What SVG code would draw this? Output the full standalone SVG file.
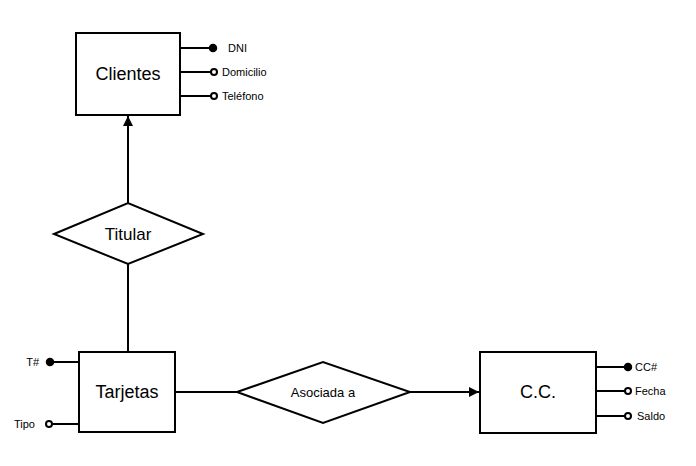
<svg xmlns="http://www.w3.org/2000/svg" width="696" height="466" viewBox="0 0 696 466">
<defs>
<style>
.box{fill:#fff;stroke:#000;stroke-width:2}
.ln{fill:none;stroke:#000;stroke-width:2}
.t{font-family:"Liberation Sans",Arial,sans-serif;fill:#000}
.big{font-size:18px}
.mid{font-size:13px}
.sm{font-size:11px}
.key{fill:#000;stroke:#000;stroke-width:1.5}
.opt{fill:#fff;stroke:#000;stroke-width:2}
</style>
<marker id="arr" viewBox="0 0 10 10" refX="10" refY="5" markerWidth="10" markerHeight="10" markerUnits="userSpaceOnUse" orient="auto">
<path d="M0,0 L10,5 L0,10 z" fill="#000"/>
</marker>
</defs>
<rect width="696" height="466" fill="#fff"/>
<g id="connectors">
<line class="ln" x1="128" y1="203" x2="128" y2="116" marker-end="url(#arr)"/>
<line class="ln" x1="128" y1="264" x2="128" y2="352"/>
<line class="ln" x1="175" y1="392" x2="237" y2="392"/>
<line class="ln" x1="410" y1="392" x2="479" y2="392" marker-end="url(#arr)"/>
</g>
<g id="clientes">
<rect class="box" x="76" y="33" width="104" height="82"/>
<text class="t big" x="128" y="80" text-anchor="middle">Clientes</text>
<line class="ln" x1="180" y1="48" x2="210" y2="48"/>
<circle class="key" cx="213" cy="48" r="3.5"/>
<text class="t sm" x="228" y="52">DNI</text>
<line class="ln" x1="180" y1="72" x2="211" y2="72"/>
<circle class="opt" cx="214" cy="72" r="3"/>
<text class="t sm" x="222" y="76">Domicilio</text>
<line class="ln" x1="180" y1="96" x2="211" y2="96"/>
<circle class="opt" cx="214" cy="96" r="3"/>
<text class="t sm" x="222" y="100">Teléfono</text>
</g>
<g id="titular">
<polygon class="box" points="54,234 128,203 203,234 128,264"/>
<text class="t" font-size="17" x="128" y="240" text-anchor="middle">Titular</text>
</g>
<g id="tarjetas">
<rect class="box" x="79" y="352" width="96" height="80"/>
<text class="t big" x="127" y="398" text-anchor="middle">Tarjetas</text>
<line class="ln" x1="53" y1="362" x2="79" y2="362"/>
<circle class="key" cx="50" cy="362" r="3.5"/>
<text class="t sm" x="39" y="366" text-anchor="end">T#</text>
<line class="ln" x1="52" y1="424" x2="79" y2="424"/>
<circle class="opt" cx="49" cy="424" r="3"/>
<text class="t sm" x="35" y="428" text-anchor="end">Tipo</text>
</g>
<g id="asociada">
<polygon class="box" points="237,392 323,362 410,392 323,423"/>
<text class="t mid" x="323" y="397" text-anchor="middle">Asociada a</text>
</g>
<g id="cc">
<rect class="box" x="480" y="352" width="116" height="81"/>
<text class="t big" x="538" y="398" text-anchor="middle">C.C.</text>
<line class="ln" x1="596" y1="367" x2="625" y2="367"/>
<circle class="key" cx="628" cy="367" r="3.5"/>
<text class="t sm" x="635" y="371">CC#</text>
<line class="ln" x1="596" y1="391" x2="625" y2="391"/>
<circle class="opt" cx="628" cy="391" r="3"/>
<text class="t sm" x="635" y="395">Fecha</text>
<line class="ln" x1="596" y1="416" x2="625" y2="416"/>
<circle class="opt" cx="628" cy="416" r="3"/>
<text class="t sm" x="637" y="420">Saldo</text>
</g>
</svg>
